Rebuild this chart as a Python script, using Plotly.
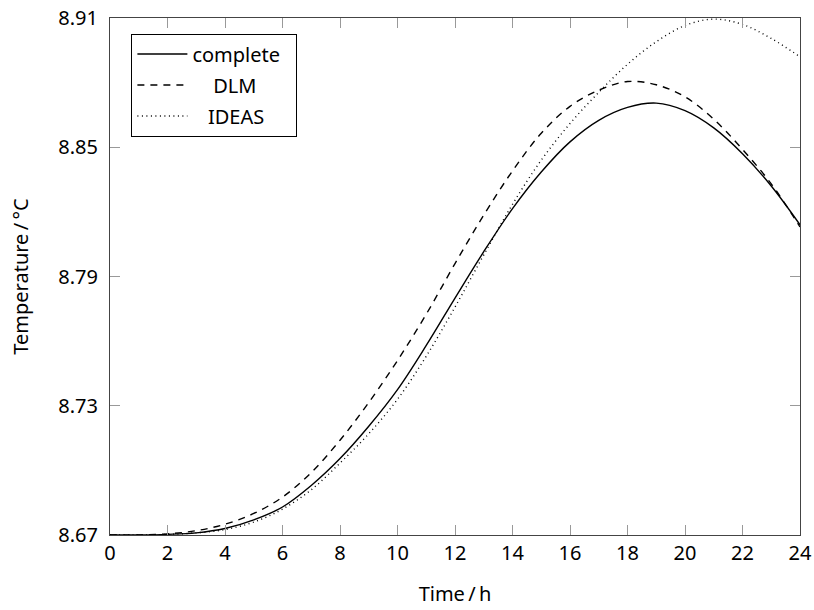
import plotly.graph_objects as go

hours = list(range(0, 25))
complete = [8.6700, 8.6700, 8.6703, 8.6710, 8.6730, 8.6770, 8.6830, 8.6930, 8.7055,
            8.7205, 8.7375, 8.7580, 8.7800, 8.8015, 8.8215, 8.8385, 8.8525, 8.8625,
            8.8685, 8.8705, 8.8670, 8.8590, 8.8470, 8.8320, 8.8140]
dlm = [8.6700, 8.6700, 8.6705, 8.6720, 8.6750, 8.6800, 8.6876, 8.6990, 8.7140,
       8.7315, 8.7510, 8.7725, 8.7960, 8.8185, 8.8390, 8.8565, 8.8690, 8.8765,
       8.8805, 8.8790, 8.8734, 8.8630, 8.8490, 8.8330, 8.8130]
ideas = [8.6700, 8.6700, 8.6703, 8.6710, 8.6725, 8.6760, 8.6820, 8.6910, 8.7034,
         8.7170, 8.7330, 8.7530, 8.7758, 8.8000, 8.8235, 8.8440, 8.8610, 8.8755,
         8.8885, 8.8990, 8.9065, 8.9095, 8.9070, 8.9005, 8.8920]

x_ticks = list(range(0, 25, 2))
y_ticks = [8.67, 8.73, 8.79, 8.85, 8.91]

FONT = "Noto Sans"
FS = 20
fig = go.Figure()
series = [
    ("complete\u00a0\u00a0", complete, "solid"),
    ("\u00a0\u00a0\u00a0\u00a0DLM", dlm, "7px,6px"),
    ("\u00a0\u00a0\u00a0IDEAS", ideas, "1px,3.5px"),
]
for i, (name, vals, dash) in enumerate(series):
    fig.add_trace(go.Scatter(
        x=hours, y=vals, mode="lines", name=name, legendgroup=f"g{i}",
        line=dict(color="black", width=1.4, dash=dash, shape="spline", smoothing=1.0),
    ))

axis_common = dict(
    showgrid=False, zeroline=False, showline=True, linecolor="#444", linewidth=1.2,
    mirror="ticks", ticks="inside", ticklen=10, tickcolor="#999", tickwidth=1,
    tickfont=dict(family=FONT, size=FS, color="black"), automargin=False,
)
fig.update_xaxes(range=[0, 24], tickvals=x_ticks, ticktext=[str(v) for v in x_ticks],
                 title=dict(text="Time\u2009/\u2009h", font=dict(family=FONT, size=FS, color="black"), standoff=21),
                 **axis_common)
fig.update_yaxes(range=[8.67, 8.91], tickvals=y_ticks, ticktext=[f"{v:.2f}" for v in y_ticks],
                 ticklabelstandoff=7,
                 title=dict(text="Temperature\u2009/\u2009°C", font=dict(family=FONT, size=FS, color="black"), standoff=24),
                 **axis_common)

fig.update_layout(
    width=814, height=610,
    margin=dict(l=110, r=14, t=18, b=75),
    paper_bgcolor="white", plot_bgcolor="white",
    font=dict(family=FONT, size=FS, color="black"),
    showlegend=True,
    legend=dict(x=0.031, y=0.97, xanchor="left", yanchor="top",
                bordercolor="black", borderwidth=1, bgcolor="white", itemwidth=50,
                tracegroupgap=2, font=dict(family=FONT, size=FS, color="black")),
)
fig.write_html("out.html")
